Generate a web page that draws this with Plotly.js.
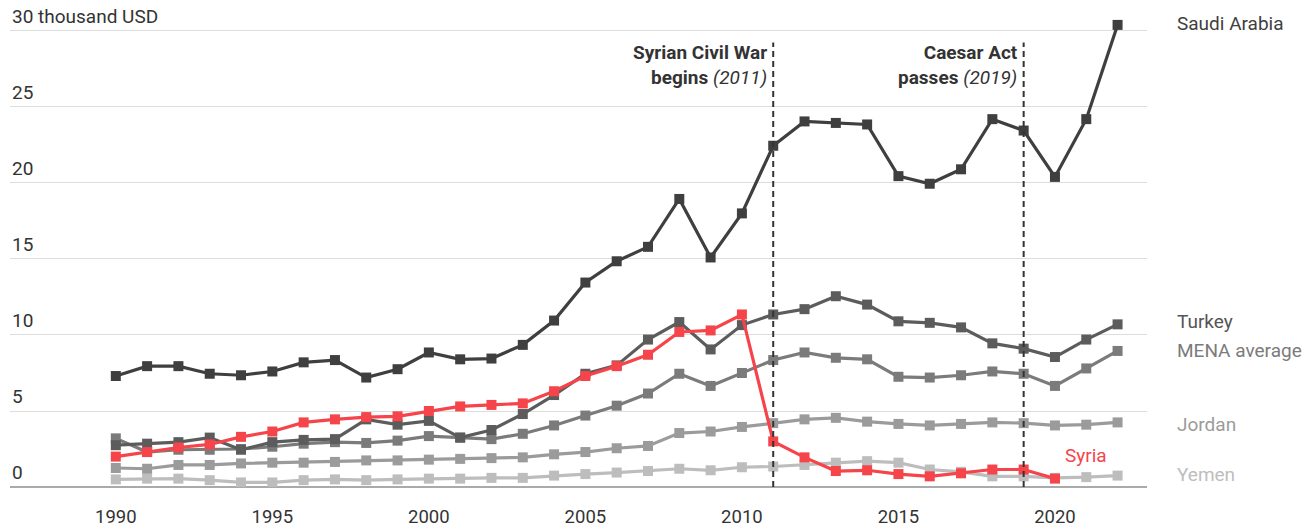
<!DOCTYPE html>
<html>
<head>
<meta charset="utf-8">
<script src="https://cdn.plot.ly/plotly-3.0.1.min.js"></script>
<style>html,body{margin:0;padding:0;background:#fff;}#chart{width:1313px;height:529px;}</style>
</head>
<body>
<div id="chart"></div>
<script>
const years = [];
for (let y = 1990; y <= 2022; y++) years.push(y);

const saudiArabia = [7.3, 7.95, 7.95, 7.45, 7.35, 7.6, 8.2, 8.35, 7.2, 7.75, 8.85, 8.4, 8.45, 9.35, 10.95, 13.45, 14.85, 15.8, 18.95, 15.1, 18.0, 22.45, 24.05, 23.95, 23.85, 20.45, 19.95, 20.9, 24.2, 23.45, 20.4, 24.2, 30.4];
const turkey = [2.75, 2.85, 2.95, 3.25, 2.45, 2.95, 3.1, 3.15, 4.45, 4.1, 4.35, 3.25, 3.75, 4.8, 6.05, 7.45, 8.0, 9.7, 10.85, 9.05, 10.65, 11.35, 11.7, 12.55, 12.0, 10.9, 10.8, 10.5, 9.45, 9.1, 8.55, 9.7, 10.7];
const menaAverage = [3.2, 2.3, 2.45, 2.45, 2.5, 2.65, 2.85, 2.95, 2.9, 3.05, 3.35, 3.25, 3.15, 3.5, 4.05, 4.7, 5.35, 6.15, 7.45, 6.65, 7.5, 8.35, 8.85, 8.5, 8.4, 7.25, 7.2, 7.35, 7.6, 7.45, 6.65, 7.8, 8.95];
const syria = [2.0, 2.3, 2.6, 2.8, 3.3, 3.65, 4.25, 4.45, 4.6, 4.65, 5.0, 5.3, 5.4, 5.5, 6.3, 7.3, 7.95, 8.7, 10.2, 10.3, 11.35, 3.0, 1.95, 1.05, 1.1, 0.85, 0.7, 0.9, 1.15, 1.15, 0.55];
const jordan = [1.25, 1.2, 1.45, 1.45, 1.55, 1.6, 1.6, 1.65, 1.75, 1.75, 1.8, 1.85, 1.9, 1.95, 2.15, 2.3, 2.55, 2.7, 3.55, 3.65, 3.95, 4.2, 4.45, 4.55, 4.3, 4.15, 4.05, 4.15, 4.25, 4.2, 4.05, 4.1, 4.25];
const yemen = [0.5, 0.55, 0.55, 0.45, 0.3, 0.3, 0.45, 0.5, 0.45, 0.5, 0.55, 0.55, 0.6, 0.6, 0.75, 0.85, 0.95, 1.05, 1.2, 1.1, 1.3, 1.35, 1.45, 1.6, 1.7, 1.6, 1.15, 1.0, 0.7, 0.7, 0.6, 0.65, 0.75];

const yTickVals = [0, 5, 10, 15, 20, 25, 30];
const yTickText = ['0', '5', '10', '15', '20', '25', '30 thousand USD'];
const xTickVals = [1990, 1995, 2000, 2005, 2010, 2015, 2020];

const seriesNames = ['Yemen', 'Jordan', 'MENA average', 'Turkey', 'Saudi Arabia', 'Syria'];
const seriesData = [yemen, jordan, menaAverage, turkey, saudiArabia, syria];
const seriesColors = ['#bdbdbd', '#9b9b9b', '#7b7b7b', '#5c5c5c', '#3f3f3f', '#f5444a'];
const labelColors = ['#bdbdbd', '#9b9b9b', '#7b7b7b', '#555555', '#3f3f3f', '#f5444a'];
const labelY = [0.79, 4.14, 8.95, 10.86, 30.46, 2.1];

const events = [
  {year: 2011, text: '<b>Syrian Civil War</b><br><b>begins</b> <i>(2011)</i>'},
  {year: 2019, text: '<b>Caesar Act</b><br><b>passes</b> <i>(2019)</i>'}
];

const FONT = 'Roboto, "Noto Sans", sans-serif';
const FS = 19;

const traces = seriesData.map((vals, i) => ({
  type: 'scatter',
  mode: 'lines+markers',
  name: seriesNames[i],
  x: years.slice(0, vals.length),
  y: vals,
  line: {color: seriesColors[i], width: 3.2},
  marker: {symbol: 'square', size: 10, color: seriesColors[i]},
  hoverinfo: 'x+y+name'
}));

const annotations = [];
yTickVals.forEach((v, i) => {
  annotations.push({
    xref: 'paper', yref: 'y', x: 0, y: v,
    xanchor: 'left', yanchor: 'bottom', yshift: 1,
    text: yTickText[i], showarrow: false,
    font: {family: FONT, size: FS, color: '#333333'}
  });
});
seriesNames.forEach((n, i) => {
  if (n === 'Syria') {
    annotations.push({
      xref: 'x', yref: 'y', x: 2020.25, y: labelY[i],
      xanchor: 'left', yanchor: 'middle',
      text: n, showarrow: false,
      font: {family: FONT, size: FS, color: labelColors[i]}
    });
  } else {
    annotations.push({
      xref: 'paper', yref: 'y', x: 1.0246, y: labelY[i],
      xanchor: 'left', yanchor: 'middle',
      text: n, showarrow: false,
      font: {family: FONT, size: FS, color: labelColors[i]}
    });
  }
});
events.forEach(e => {
  annotations.push({
    xref: 'x', yref: 'y', x: e.year, y: 29.5,
    xanchor: 'right', yanchor: 'top', xshift: -4,
    align: 'right',
    text: e.text, showarrow: false,
    font: {family: FONT, size: FS, color: '#333333'}
  });
});

const shapes = events.map(e => ({
  type: 'line', xref: 'x', yref: 'y',
  x0: e.year, x1: e.year, y0: 0, y1: 29.25,
  line: {color: '#333333', width: 2, dash: '6px,4px'},
  layer: 'above'
}));

const layout = {
  width: 1313, height: 529,
  margin: {l: 10, r: 166, t: 10, b: 42},
  paper_bgcolor: '#ffffff', plot_bgcolor: '#ffffff',
  showlegend: false,
  font: {family: FONT, size: FS, color: '#333333'},
  xaxis: {
    range: [1986.62, 2022.94],
    tickvals: xTickVals,
    ticks: 'outside', ticklen: 13, tickcolor: 'rgba(0,0,0,0)',
    showgrid: false, zeroline: false, showline: false,
    tickfont: {family: FONT, size: 18.5, color: '#333333'}
  },
  yaxis: {
    range: [0, 31.38],
    tickvals: yTickVals,
    showticklabels: false,
    showgrid: true, gridcolor: '#dddddd', gridwidth: 1,
    zeroline: true, zerolinecolor: '#aaaaaa', zerolinewidth: 1.5,
    showline: false
  },
  annotations: annotations,
  shapes: shapes
};

Plotly.newPlot('chart', traces, layout, {displayModeBar: false, staticPlot: true});
</script>
</body>
</html>
